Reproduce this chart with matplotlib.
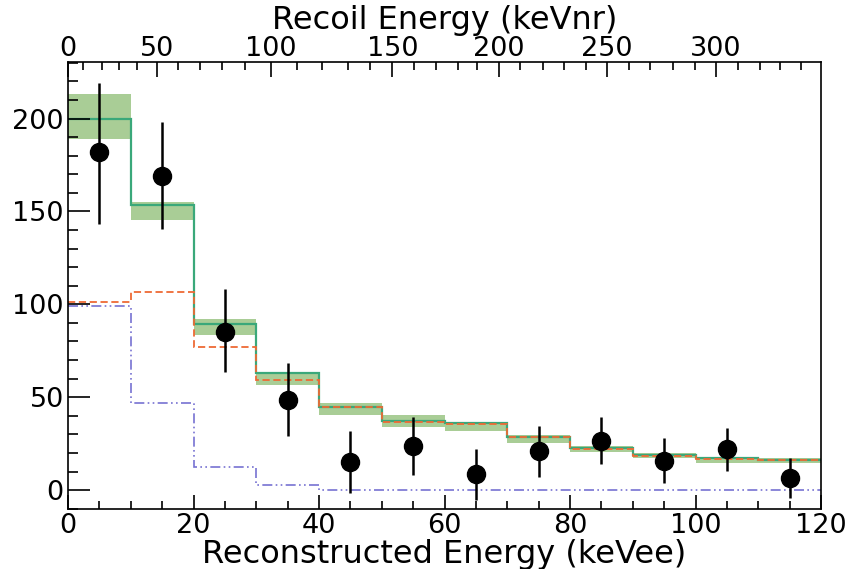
import numpy as np
import matplotlib
matplotlib.use("Agg")
import matplotlib.pyplot as plt
from matplotlib.ticker import MultipleLocator, FixedLocator

# bins in reconstructed energy (keVee)
edges = np.arange(0, 130, 10)
total = [200, 153.3, 89.4, 62.8, 45.0, 37.0, 35.9, 28.7, 22.4, 18.8, 17.1, 16.2]
band_lo = [189, 145.4, 83.5, 56.5, 40.4, 33.8, 31.9, 25.5, 20.6, 17.1, 14.7, 14.7]
band_hi = [213, 155.3, 92.0, 63.8, 46.7, 40.4, 36.8, 29.6, 23.7, 20.1, 17.9, 17.4]
comp_a = [101, 106.6, 77.2, 59.4, 44.8, 36.8, 35.7, 28.5, 22.2, 18.6, 16.9, 16.0]
comp_b = [99, 46.7, 12.2, 3.0, 0, 0, 0, 0, 0, 0, 0, 0]

# data points
x_data = [5, 15, 25, 35, 45, 55, 65, 75, 85, 95, 105, 115]
y_data = [181.8, 169, 84.9, 48.5, 14.9, 23.7, 8.6, 21.0, 26.4, 15.8, 22.1, 6.6]
y_low = [143.2, 140.4, 63.5, 29.1, -1.4, 8.1, -5.4, 7.2, 13.8, 3.6, 10.2, -4.5]
y_high = [219, 198.3, 108, 68.4, 31.8, 39.5, 22.1, 34.5, 39.5, 27.8, 33.6, 17.1]

# recoil energy scale (keVnr) vs reconstructed energy (keVee)
nr_cal = np.arange(0, 350, 10)
ee_cal = [0, 2.44, 5.37, 8.17, 11.05, 14.14, 17.58, 21.04, 24.60, 28.22, 32.36,
          36.55, 40.50, 44.68, 48.13, 51.70, 55.16, 58.62, 62.07, 65.17, 68.71,
          72.06, 75.62, 79.00, 82.53, 85.88, 89.44, 92.78, 96.34, 99.85, 103.26,
          106.77, 110.21, 113.40, 116.81]
nr_major = [0, 50, 100, 150, 200, 250, 300]

fig = plt.figure(figsize=(8.58, 5.69), dpi=100)
rect = [0.0793, 0.1054, 0.8776, 0.7857]
ax = fig.add_axes(rect)

ax.stairs(band_hi, edges, baseline=band_lo, fill=True, color="#a9cd96", lw=0)
ax.stairs(total, edges, baseline=None, color="#3aa87a", lw=1.6)
ax.stairs(comp_a, edges, baseline=None, color="#ee6a35", lw=1.3, ls=(0, (4, 2)))
ax.stairs(comp_b, edges, baseline=None, color="#7772d2", lw=1.2,
          ls=(0, (6, 2, 1, 2, 1, 2)))

yerr = [np.subtract(y_data, y_low), np.subtract(y_high, y_data)]
ax.errorbar(x_data, y_data, yerr=yerr, fmt="o", color="black", ms=13,
            elinewidth=1.8, capsize=0, zorder=5)

ax.set_xlim(0, 120)
ax.set_ylim(-10.2, 230.5)
ax.xaxis.set_ticks_position("bottom")
ax.yaxis.set_ticks_position("left")
ax.xaxis.set_major_locator(MultipleLocator(20))
ax.xaxis.set_minor_locator(MultipleLocator(5))
ax.yaxis.set_major_locator(MultipleLocator(50))
ax.yaxis.set_minor_locator(MultipleLocator(10))
ax.tick_params(axis="x", which="major", direction="in", length=10, width=1.2,
               labelsize=19.5, pad=3)
ax.tick_params(axis="x", which="minor", direction="in", length=5.5, width=1.2)
ax.tick_params(axis="y", which="major", direction="in", length=16, width=1.2,
               labelsize=19.5, pad=3)
ax.tick_params(axis="y", which="minor", direction="in", length=7.5, width=1.2)
for s in ax.spines.values():
    s.set_linewidth(1.2)
ax.set_xlabel("Reconstructed Energy (keVee)", fontsize=23, labelpad=0)

# separate overlay axes for the recoil energy scale on top
ax2 = fig.add_axes(rect, frameon=False)
ax2.set_xlim(ax.get_xlim())
ax2.yaxis.set_visible(False)
ax2.xaxis.set_ticks_position("top")
ax2.xaxis.set_label_position("top")
ax2.xaxis.set_major_locator(FixedLocator(np.interp(nr_major, nr_cal, ee_cal)))
ax2.xaxis.set_minor_locator(FixedLocator(ee_cal))
ax2.set_xticklabels([str(v) for v in nr_major])
ax2.tick_params(axis="x", which="major", direction="in", length=11, width=1.2,
                labelsize=19.5, pad=0)
ax2.tick_params(axis="x", which="minor", direction="in", length=6, width=1.2)
ax2.set_xlabel("Recoil Energy (keVnr)", fontsize=23, va="bottom")
ax2.xaxis.set_label_coords(0.5, 1.059)

fig.savefig("out.png", dpi=100)
